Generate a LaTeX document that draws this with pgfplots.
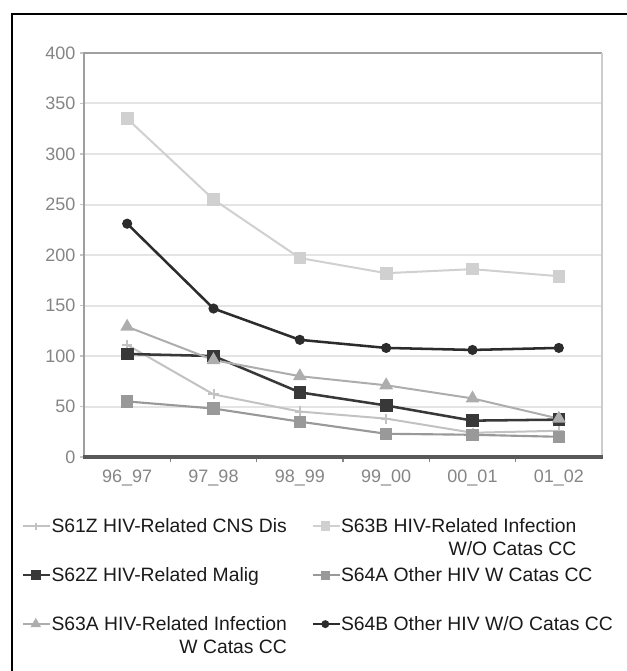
\documentclass[border=0pt]{standalone}
\usepackage{fontspec}
\setmainfont{Liberation Sans}
\usepackage{pgfplots}
\pgfplotsset{compat=1.18}

\definecolor{cnsc}{HTML}{C2C2C2}
\definecolor{infwoc}{HTML}{D0D0D0}
\definecolor{maligc}{HTML}{383838}
\definecolor{otherwc}{HTML}{999999}
\definecolor{infwc}{HTML}{ADADAD}
\definecolor{otherwoc}{HTML}{2C2C2C}
\definecolor{ticktext}{HTML}{858585}
\definecolor{gridc}{HTML}{E4E4E4}
\definecolor{legtext}{HTML}{1A1A1A}

% legend cells: fixed row pitch, first line on the baseline
\newcommand{\legstrut}{\rule[-24.65pt]{0pt}{36.75pt}}
\newcommand{\twoline}[2]{\vtop{\halign{\hfil##\cr #1\cr #2\cr}}}
\newcommand{\leftcell}[1]{\makebox[195pt][l]{\legstrut#1}}
\newcommand{\rightcell}[1]{\legstrut#1}

\begin{document}
\begin{tikzpicture}[x=1pt,y=1pt]
\begin{axis}[
  at={(63pt,160.5pt)}, anchor=south west,
  scale only axis, width=388.5pt, height=303pt,
  xmin=-0.5, xmax=5.5, ymin=0, ymax=400,
  clip=false,
  xtick={0,...,5},
  xticklabels={96\_97,97\_98,98\_99,99\_00,00\_01,01\_02},
  minor xtick={0.5,1.5,2.5,3.5,4.5},
  ytick={0,50,...,400},
  xtick pos=bottom, ytick pos=left,
  tick align=outside,
  major x tick style={draw=none},
  minor x tick style={draw=ticktext, line width=0.8pt},
  minor tick length=4pt,
  major y tick style={draw=gridc!70!gray, line width=0.8pt},
  major tick length=3pt,
  ymajorgrids,
  major grid style={draw=gridc, line width=1.5pt},
  axis line style={draw=none},
  tick label style={font=\fontsize{13.5}{16}\selectfont, text=ticktext},
  xticklabel style={yshift=-3pt},
  /pgf/number format/assume math mode=true,
  legend columns=2,
  legend style={at={(axis description cs:-0.1197,-0.1460)}, anchor=north west,
    draw=none, fill=none, inner sep=0pt, outer sep=0pt,
    column sep=0pt, row sep=0pt,
    nodes={inner sep=0pt, text depth=, text height=},
    cells={anchor=base west},
    font=\fontsize{14.5}{17.25}\selectfont, text=legtext},
  legend image code/.code={
    \draw[mark repeat=2, mark phase=2, #1, mark options={scale=0.7}]
      plot coordinates {(0pt,4.5pt) (9.4pt,4.5pt) (18.75pt,4.5pt)};
    \path (0pt,4.5pt) -- (20.25pt,4.5pt);
  },
]
% S61Z HIV-Related CNS Dis
\addplot[color=cnsc, line width=1.5pt, mark=+, mark size=3.8pt,
  mark options={line width=1.5pt}]
  coordinates {(0,111) (1,62) (2,45) (3,38) (4,24) (5,26)};
\addlegendentry{\leftcell{S61Z HIV-Related CNS Dis}}
% S63B HIV-Related Infection W/O Catas CC
\addplot[color=infwoc, line width=1.5pt, mark=square*, mark size=4pt]
  coordinates {(0,335) (1,255) (2,197) (3,182) (4,186) (5,179)};
\addlegendentry{\rightcell{\twoline{S63B HIV-Related Infection}{W/O Catas CC}}}
% S62Z HIV-Related Malig
\addplot[color=maligc, line width=1.9pt, mark=square*, mark size=3.8pt]
  coordinates {(0,102) (1,100) (2,64) (3,51) (4,36) (5,37)};
\addlegendentry{\leftcell{S62Z HIV-Related Malig}}
% S64A Other HIV W Catas CC
\addplot[color=otherwc, line width=1.6pt, mark=square*, mark size=3.8pt]
  coordinates {(0,55) (1,48) (2,35) (3,23) (4,22) (5,20)};
\addlegendentry{\rightcell{S64A Other HIV W Catas CC}}
% S63A HIV-Related Infection W Catas CC
\addplot[color=infwc, line width=1.5pt, mark=triangle*, mark size=4.5pt]
  coordinates {(0,129) (1,96) (2,80) (3,71) (4,58) (5,38)};
\addlegendentry{\leftcell{\twoline{S63A HIV-Related Infection}{W Catas CC}}}
% S64B Other HIV W/O Catas CC
\addplot[color=otherwoc, line width=1.9pt, mark=*, mark size=2.8pt]
  coordinates {(0,231) (1,147) (2,116) (3,108) (4,106) (5,108)};
\addlegendentry{\rightcell{S64B Other HIV W/O Catas CC}}
% plot area border
\draw[draw=gray!75, line width=2.2pt] (rel axis cs:0,0) -- (rel axis cs:0,1) -- (rel axis cs:1,1);
\draw[draw=gray!40, line width=2.2pt] (rel axis cs:1,1) -- (rel axis cs:1,0);
\draw[draw=black!65, line width=2.4pt] (rel axis cs:-0.002,0) -- (rel axis cs:1.002,0);
\end{axis}
% outer frame, cut at the right and bottom
\draw[line width=2pt] (9pt,-10pt) -- (9pt,492.75pt) -- (480pt,492.75pt);
\pgfresetboundingbox
\path[use as bounding box] (0pt,0pt) rectangle (469.5pt,503.25pt);
\end{tikzpicture}
\end{document}
